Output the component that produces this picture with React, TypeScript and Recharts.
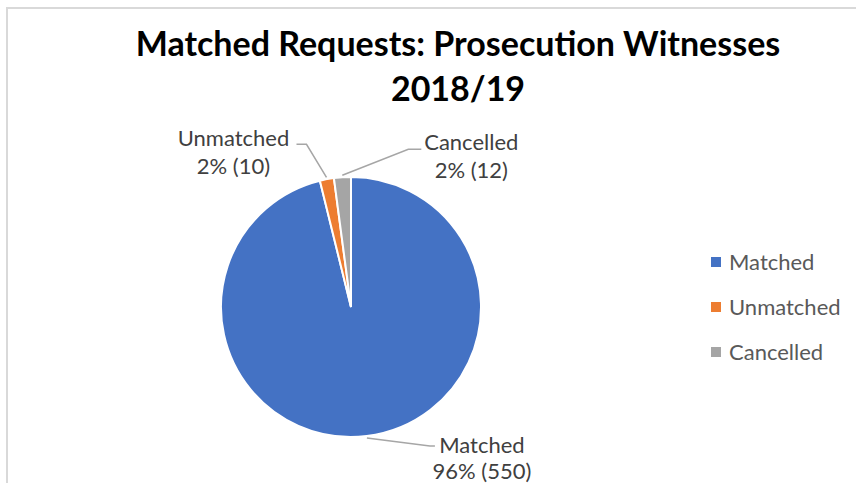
import React from 'react';
import { PieChart, Pie, Cell, Legend } from 'recharts';

const categories = ['Matched', 'Unmatched', 'Cancelled'];
const requestCounts = [550, 10, 12];
const sliceColors = ['#4472C4', '#ED7D31', '#A5A5A5'];
const titleLines = ['Matched Requests: Prosecution Witnesses', '2018/19'];

const chartData = categories.map((name, i) => ({ name, value: requestCounts[i] }));

const FONT = 'Lato, "Open Sans", sans-serif';
const RAD = Math.PI / 180;

// where each label sits relative to the point on the rim at the slice's mid angle
const labelPlacement = [
  { tx: 115, b1: 15, b2: 41, elbow: [63, 8], end: [68, 8] },
  { tx: -93, b1: -31, b2: -3, elbow: [-20, -33], end: [-30, -33] },
  { tx: 129, b1: -25, b2: 3, elbow: [66, -26], end: [79, -26] },
];

const renderLabel = (props: any) => {
  const { cx, cy, midAngle, outerRadius, index, name, percent, value } = props;
  const r = outerRadius + 2;
  const x = cx + r * Math.cos(-midAngle * RAD);
  const y = cy + r * Math.sin(-midAngle * RAD);
  const p = labelPlacement[index];
  return (
    <g>
      <polyline
        points={`${x},${y} ${x + p.elbow[0]},${y + p.elbow[1]} ${x + p.end[0]},${y + p.end[1]}`}
        fill="none"
        stroke="#A6A6A6"
        strokeWidth={1.5}
      />
      <text x={x + p.tx} y={y + p.b1} textAnchor="middle" fontFamily={FONT} fontSize={22} fill="#404040">
        {name}
      </text>
      <text x={x + p.tx} y={y + p.b2} textAnchor="middle" fontFamily={FONT} fontSize={22} fill="#404040">
        {`${Math.round(percent * 100)}% (${value})`}
      </text>
    </g>
  );
};

const LegendContent = ({ payload }: any) => {
  const items = [...(payload || [])].sort(
    (a: any, b: any) => categories.indexOf(a.value) - categories.indexOf(b.value)
  );
  return (
    <div>
      {items.map((entry: any) => (
        <div key={entry.value} style={{ height: 45, display: 'flex', alignItems: 'center' }}>
          <span style={{ width: 10, height: 10, background: entry.color, display: 'inline-block', marginRight: 8 }} />
          <span style={{ fontFamily: FONT, fontSize: 22, color: '#595959' }}>{entry.value}</span>
        </div>
      ))}
    </div>
  );
};

export default function App() {
  return (
    <div style={{ position: 'absolute', left: 0, top: 0, width: 856, height: 483, overflow: 'hidden', background: '#fff' }}>
      <div
        style={{
          position: 'absolute',
          left: 6,
          top: 7,
          width: 900,
          height: 520,
          borderTop: '2px solid #D9D9D9',
          borderLeft: '2px solid #D9D9D9',
        }}
      />
      <PieChart
        width={856}
        height={483}
        margin={{ top: 0, right: 0, bottom: 0, left: 0 }}
        style={{ position: 'absolute', left: 0, top: 0 }}
      >
        <text x={458} y={56} textAnchor="middle" fontFamily={FONT} fontWeight={700} fontSize={34} fill="#000">
          {titleLines[0]}
        </text>
        <text x={458} y={101} textAnchor="middle" fontFamily={FONT} fontWeight={700} fontSize={34} fill="#000">
          {titleLines[1]}
        </text>
        <Pie
          data={chartData}
          dataKey="value"
          nameKey="name"
          cx={351}
          cy={307}
          outerRadius={130}
          startAngle={90}
          endAngle={-270}
          stroke="#fff"
          strokeWidth={2}
          label={renderLabel}
          labelLine={false}
          isAnimationActive={false}
        >
          {chartData.map((d, i) => (
            <Cell key={d.name} fill={sliceColors[i]} />
          ))}
        </Pie>
        <Legend
          layout="vertical"
          align="right"
          verticalAlign="top"
          content={<LegendContent />}
          wrapperStyle={{ left: 711, top: 239, width: 140 }}
        />
      </PieChart>
    </div>
  );
}
